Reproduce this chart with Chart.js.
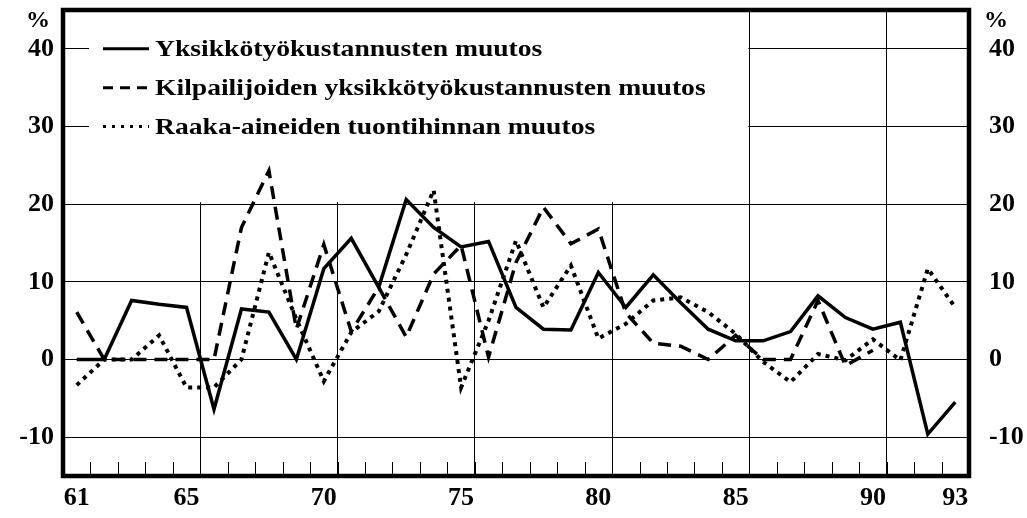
<!DOCTYPE html>
<html>
<head>
<meta charset="utf-8">
<script src="https://cdn.jsdelivr.net/npm/chart.js@4.4.1/dist/chart.umd.min.js"></script>
<style>
  html, body { margin: 0; padding: 0; background: #fff; }
</style>
</head>
<body>
<canvas id="chart" width="1027" height="518"></canvas>
<script>
// vuodet 1961-1993 (kaksinumeroisena)
const vuodet = [61, 62, 63, 64, 65, 66, 67, 68, 69, 70, 71, 72, 73, 74, 75, 76, 77,
                78, 79, 80, 81, 82, 83, 84, 85, 86, 87, 88, 89, 90, 91, 92, 93];

const yksikkotyokustannukset = [0, 0, 7.6, 7.1, 6.7, -6.4, 6.5, 6.1, 0, 11.7, 15.6, 9.3, 20.6,
                                17.0, 14.5, 15.2, 6.7, 3.9, 3.8, 11.2, 6.7, 10.9, 7.3, 3.9, 2.4,
                                2.4, 3.6, 8.2, 5.4, 3.9, 4.8, -9.6, -5.5];

const kilpailijat = [6.1, 0, 0, 0, 0, 0, 17, 24.3, 3.9, 14.8, 3.6, 9.3, 2.9, 11, 14.7, 0.3,
                     12.5, 19.6, 14.9, 16.8, 6, 2.1, 1.7, 0, 3.1, 0, 0, 7.6, -0.8, 1.2,
                     null, null, null];

const raakaAineet = [-3.3, 0, 0, 3.1, -3.6, -3.6, 0, 13.8, 5.2, -2.8, 3.5, 6.2, 13.5, 21.8,
                     -3.6, 5, 15.3, 6.7, 12.1, 2.7, 4.6, 7.6, 8.0, 6.1, 3.3, -0.3, -2.9,
                     0.7, -0.1, 2.6, -0.1, 11.7, 6.7];

const sarjaNimet = [
    "Yksikkötyökustannusten muutos",
    "Kilpailijoiden yksikkötyökustannusten muutos",
    "Raaka-aineiden tuontihinnan muutos"
];

const xLabels = [61, 65, 70, 75, 80, 85, 90, 93];
const xGridLines = [65.5, 70.5, 75.5, 80.5, 85.5, 90.5];
const yTicks = [-10, 0, 10, 20, 30, 40];

const FONT = '"Liberation Serif", "Times New Roman", serif';
const tickFont = { family: FONT, size: 26, weight: 'bold' };

function pisteet(arvot) {
    return vuodet.map((v, i) => ({ x: v, y: arvot[i] }));
}

function eiReunoja(s) {
    s.paddingTop = 0;
    s.paddingBottom = 0;
    s.paddingLeft = 0;
    s.paddingRight = 0;
}

// pienet väliviivat alareunassa, legenda valkoisella pohjalla, paksu kehys
const kehysPlugin = {
    id: "kehys",
    beforeDatasetsDraw(chart) {
        const { ctx, chartArea, scales } = chart;
        const x = scales.x, y = scales.y;

        // legendan pohja peittää ruudukon
        const left = chartArea.left + 26;
        const right = x.getPixelForValue(85.5) - 1;
        const top = chartArea.top;
        const bottom = y.getPixelForValue(20) - 2;
        ctx.save();
        ctx.fillStyle = "#fff";
        ctx.fillRect(left, top, right - left, bottom - top);

        // legendan rivit
        const tyylit = [[], [10, 7], [3, 6]];
        chart.data.datasets.forEach((ds, i) => {
            const yy = y.getPixelForValue(40 - 5 * i);
            ctx.beginPath();
            ctx.setLineDash(tyylit[i]);
            ctx.lineWidth = 3;
            ctx.strokeStyle = "#000";
            ctx.moveTo(chartArea.left + 40, yy);
            ctx.lineTo(chartArea.left + 86, yy);
            ctx.stroke();

            ctx.setLineDash([]);
            ctx.save();
            ctx.translate(chartArea.left + 92, yy);
            ctx.scale(1.15, 1);
            ctx.font = "bold 24px " + FONT;
            ctx.fillStyle = "#000";
            ctx.textBaseline = "middle";
            ctx.fillText(ds.label, 0, 1);
            ctx.restore();
        });

        // pienet väliviivat alhaalta ylöspäin
        ctx.beginPath();
        ctx.lineWidth = 1;
        ctx.strokeStyle = "#000";
        for (let v = 61.5; v < 93; v++) {
            const px = Math.round(x.getPixelForValue(v)) + 0.5;
            ctx.moveTo(px, chartArea.bottom);
            ctx.lineTo(px, chartArea.bottom - 14);
        }
        ctx.stroke();
        ctx.restore();
    },
    afterDatasetsDraw(chart) {
        const { ctx, chartArea } = chart;
        ctx.save();
        ctx.lineWidth = 4.5;
        ctx.strokeStyle = "#000";
        ctx.strokeRect(chartArea.left, chartArea.top, chartArea.right - chartArea.left, chartArea.bottom - chartArea.top);

        ctx.font = "bold 24px " + FONT;
        ctx.fillStyle = "#000";
        ctx.textAlign = "center";
        ctx.textBaseline = "middle";
        ctx.fillText("%", 38, 21);
        ctx.fillText("%", 996, 21);
        ctx.restore();
    }
};

const ctx = document.getElementById("chart").getContext("2d");

new Chart(ctx, {
    type: "line",
    data: {
        datasets: [
            {
                label: sarjaNimet[0],
                data: pisteet(yksikkotyokustannukset),
                borderColor: "#000",
                borderWidth: 3.5,
                borderJoinStyle: "miter"
            },
            {
                label: sarjaNimet[1],
                data: pisteet(kilpailijat),
                borderColor: "#000",
                borderWidth: 3.5,
                borderDash: [13, 8]
            },
            {
                label: sarjaNimet[2],
                data: pisteet(raakaAineet),
                borderColor: "#000",
                borderWidth: 4,
                borderDash: [4, 5]
            }
        ]
    },
    options: {
        responsive: false,
        animation: false,
        devicePixelRatio: 1,
        layout: { padding: { top: 10, left: 0, right: 0, bottom: 0 } },
        elements: {
            point: { radius: 0 },
            line: { tension: 0, fill: false }
        },
        plugins: {
            legend: { display: false },
            tooltip: { enabled: false }
        },
        scales: {
            x: {
                type: "linear",
                min: 60.5,
                max: 93.5,
                afterBuildTicks: axis => {
                    axis.ticks = xLabels.concat(xGridLines)
                        .sort((a, b) => a - b)
                        .map(v => ({ value: v }));
                },
                afterFit: s => { s.height = 42; eiReunoja(s); },
                grid: {
                    drawTicks: false,
                    lineWidth: 1,
                    color: c => (c.tick && !Number.isInteger(c.tick.value)) ? "#000" : "rgba(0,0,0,0)"
                },
                border: { display: false },
                ticks: {
                    autoSkip: false,
                    maxRotation: 0,
                    padding: 7,
                    color: "#000",
                    font: tickFont,
                    callback: v => Number.isInteger(v) ? String(v) : ""
                }
            },
            y: {
                type: "linear",
                position: "left",
                min: -15,
                max: 45,
                afterBuildTicks: axis => { axis.ticks = yTicks.map(v => ({ value: v })); },
                afterFit: s => { s.width = 63; eiReunoja(s); },
                grid: { color: "#000", lineWidth: 1, drawTicks: false },
                border: { display: false },
                ticks: { padding: 9, color: "#000", font: tickFont }
            },
            y2: {
                type: "linear",
                position: "right",
                min: -15,
                max: 45,
                afterBuildTicks: axis => { axis.ticks = yTicks.map(v => ({ value: v })); },
                afterFit: s => { s.width = 58; eiReunoja(s); },
                grid: { display: false },
                border: { display: false },
                ticks: { padding: 12, color: "#000", font: tickFont }
            }
        }
    },
    plugins: [kehysPlugin]
});
</script>
</body>
</html>
